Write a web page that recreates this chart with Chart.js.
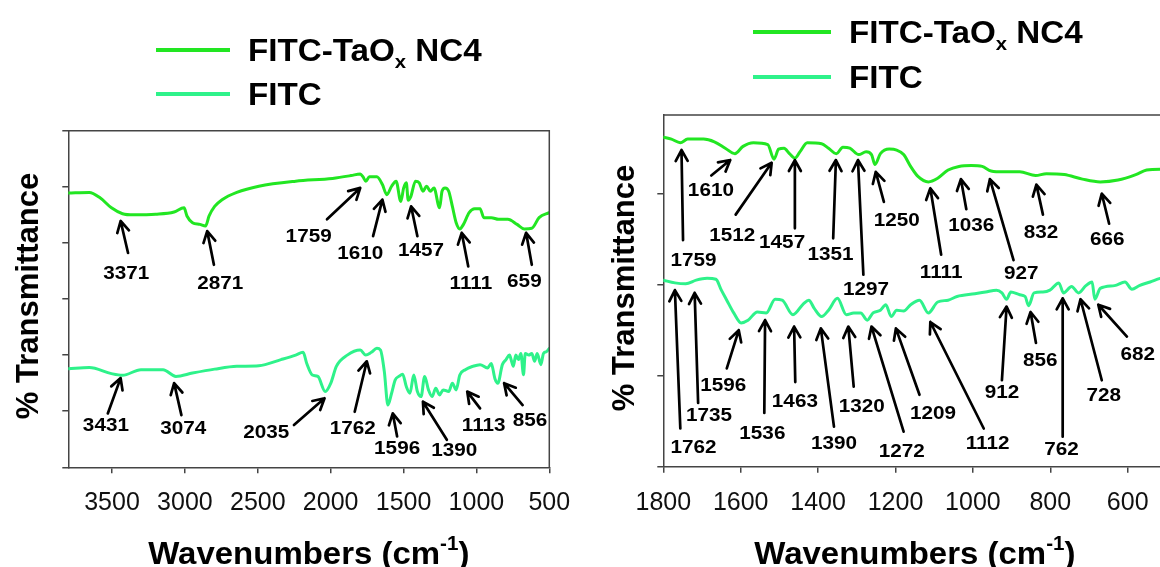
<!DOCTYPE html>
<html>
<head>
<meta charset="utf-8">
<script src="https://cdn.jsdelivr.net/npm/chart.js@4.4.0/dist/chart.umd.min.js"></script>
<style>
  html, body { margin: 0; padding: 0; background: #fff; overflow: hidden; }
  #wrap { position: relative; width: 1160px; height: 567px; overflow: hidden; background: #fff; }
  .panel { position: absolute; top: 0; }
  #leftPanel { left: 0; }
  #rightPanel { left: 600px; }
</style>
</head>
<body>
<div id="wrap">
  <div class="panel" id="leftPanel"><canvas id="fullRange" width="590" height="567"></canvas></div>
  <div class="panel" id="rightPanel"><canvas id="fingerprint" width="600" height="567"></canvas></div>
</div>
<script>
// ---- series names ----
const SERIES_NAMES = ['FITC-TaOₓ NC4', 'FITC'];
const X_TITLE = 'Wavenumbers (cm⁻¹)';
const Y_TITLE = '% Transmittance';

// ---- full range spectra (3800 - 500 cm-1) ----
const fullNC4Wn = [3800,3656,3580,3504,3428,3352,3201,3074,3006,2986,2948,2897,2859,2834,2796,2745,2644,2493,2240,1987,1860,1797,1779,1759,1734,1683,1645,1615,1582,1551,1519,1499,1481,1468,1451,1418,1392,1367,1342,1316,1291,1253,1236,1215,1190,1165,1139,1114,1089,1050,1012,975,949,898,848,785,721,671,620,570,500];
const fullNC4T  = [4.89,4.90,4.80,4.625,4.52,4.50,4.51,4.55,4.625,4.48,4.36,4.33,4.30,4.48,4.65,4.77,4.90,5.01,5.10,5.15,5.20,5.23,5.18,5.10,5.18,5.18,5.04,4.86,5.01,5.10,4.74,4.98,5.07,4.76,4.82,5.10,5.07,4.92,5.01,4.92,4.98,4.625,4.92,4.98,4.92,4.65,4.36,4.25,4.33,4.54,4.61,4.61,4.45,4.45,4.42,4.42,4.33,4.25,4.26,4.45,4.54];
const fullFITCWn = [3800,3656,3504,3428,3302,3150,3062,2948,2796,2644,2493,2341,2240,2189,2164,2126,2088,2037,1999,1961,1886,1797,1759,1721,1683,1658,1632,1607,1582,1557,1532,1506,1481,1456,1430,1405,1380,1355,1329,1304,1279,1253,1228,1190,1165,1139,1114,1076,1025,975,924,898,873,853,822,797,773,760,747,730,712,695,677,665,640,620,601,583,558,540,520,500];
const fullFITCT  = [1.755,1.78,1.67,1.64,1.74,1.74,1.62,1.68,1.75,1.80,1.81,1.92,2.00,2.05,1.85,1.645,1.62,1.35,1.50,1.80,2.00,2.09,2.00,2.05,2.12,2.09,1.71,1.11,1.32,1.56,1.62,1.66,1.44,1.32,1.645,1.35,1.26,1.62,1.38,1.26,1.41,1.29,1.38,1.35,1.50,1.38,1.645,1.74,1.80,1.83,1.77,1.85,1.58,1.50,1.83,1.92,2.00,1.90,1.80,2.00,1.92,2.03,1.65,2.03,2.00,2.03,1.89,2.03,1.83,2.03,2.06,2.12];

// ---- fingerprint region spectra (1800 - 500 cm-1) ----
const fpNC4Wn = [1800,1779,1756,1737,1696,1668,1640,1615,1594,1567,1530,1514,1502,1488,1474,1460,1447,1428,1391,1373,1353,1336,1318,1295,1276,1262,1253,1239,1216,1197,1179,1161,1142,1115,1091,1064,1036,1004,976,953,921,879,838,810,764,717,671,625,579,551,516,500];
const fpNC4T  = [3.62,3.60,3.56,3.60,3.60,3.57,3.50,3.44,3.52,3.56,3.54,3.38,3.49,3.50,3.44,3.39,3.46,3.56,3.55,3.50,3.44,3.51,3.50,3.43,3.46,3.43,3.32,3.44,3.49,3.48,3.43,3.30,3.19,3.13,3.17,3.26,3.30,3.31,3.30,3.25,3.24,3.24,3.20,3.22,3.21,3.16,3.13,3.15,3.21,3.26,3.27,3.27];
const fpFITCWn = [1800,1770,1742,1715,1687,1664,1650,1636,1618,1599,1581,1557,1534,1511,1493,1465,1438,1424,1410,1391,1373,1350,1327,1308,1290,1273,1258,1239,1225,1211,1197,1179,1161,1138,1115,1091,1064,1041,995,967,939,925,913,902,879,865,856,842,819,801,778,766,745,727,708,692,685,671,634,607,589,570,542,516,500];
const fpFITCT  = [2.05,2.02,2.01,2.05,2.07,2.06,1.94,1.83,1.69,1.58,1.61,1.70,1.69,1.84,1.83,1.67,1.79,1.83,1.74,1.65,1.72,1.85,1.67,1.69,1.69,1.61,1.69,1.72,1.78,1.65,1.72,1.71,1.78,1.83,1.69,1.81,1.83,1.87,1.90,1.92,1.94,1.91,1.84,1.92,1.89,1.87,1.77,1.91,1.92,1.94,2.02,1.91,1.98,1.91,1.99,2.03,1.84,1.96,1.99,2.03,1.95,1.99,2.03,2.07,2.08];

// ---- axis ticks ----
const fullXTicks = [500,1000,1500,2000,2500,3000,3500];
const fullYTicks = [0,1,2,3,4,5,6];
const fpXTicks = [600,800,1000,1200,1400,1600,1800];
const fpYTicks = [0,1,2,3];

// ---- band assignments: text, arrow tip [wn, T], arrow tail [wn, T], label centre [wn, T] ----
const fullPeaks = [
  ['3371', 3441,4.39, 3390,3.82, 3403,3.475],
  ['2871', 2847,4.21, 2801,3.61, 2758,3.29],
  ['1759', 1797,4.98, 2025,4.42, 2151,4.12],
  ['1610', 1645,4.77, 1709,4.12, 1797,3.82],
  ['1457', 1448,4.65, 1405,4.12, 1380,3.88],
  ['1111', 1101,4.18, 1056,3.58, 1038,3.29],
  ['659',  659,4.18,  620,3.61,  671,3.33],
  ['3431', 3441,1.59, 3529,0.96, 3542,0.755],
  ['3074', 3074,1.50, 3024,0.93, 3011,0.71],
  ['2035', 2042,1.23, 2252,0.755, 2442,0.64],
  ['1762', 1752,1.89, 1835,0.99, 1848,0.71],
  ['1596', 1574,0.96, 1544,0.55, 1544,0.34],
  ['1390', 1367,1.17, 1203,0.49, 1152,0.31],
  ['1113', 1063,1.35, 975,1.05,  950,0.755],
  ['856',  810,1.50,  683,1.11,  633,0.845]
];
const fpPeaks = [
  ['1759', 1753,3.48, 1749,2.49, 1722,2.27],
  ['1610', 1627,3.37, 1676,3.20, 1677,3.04],
  ['1512', 1520,3.34, 1613,2.77, 1622,2.55],
  ['1457', 1460,3.37, 1460,2.62, 1493,2.47],
  ['1351', 1354,3.37, 1361,2.51, 1368,2.34],
  ['1297', 1297,3.37, 1283,2.11, 1276,1.96],
  ['1250', 1251,3.24, 1230,2.91, 1197,2.71],
  ['1111', 1110,3.06, 1082,2.33, 1082,2.14],
  ['1036', 1031,3.16, 1017,2.83, 1004,2.66],
  ['927',  956,3.16,  895,2.27,  875,2.13],
  ['832',  836,3.10,  819,2.77,  824,2.58],
  ['666',  667,3.00,  648,2.67,  653,2.50],
  ['1762', 1770,1.94, 1756,0.42, 1722,0.22],
  ['1735', 1719,1.91, 1710,0.70, 1682,0.57],
  ['1596', 1605,1.50, 1636,1.08, 1645,0.90],
  ['1536', 1537,1.61, 1539,0.59, 1544,0.37],
  ['1463', 1462,1.54, 1459,0.93, 1460,0.73],
  ['1390', 1393,1.52, 1359,0.44, 1359,0.26],
  ['1320', 1322,1.54, 1308,0.88, 1287,0.67],
  ['1272', 1262,1.54, 1179,0.385, 1184,0.18],
  ['1209', 1199,1.52, 1138,0.79, 1103,0.59],
  ['1112', 1110,1.59, 972,0.42,  962,0.26],
  ['912',  913,1.76,  925,0.95,  925,0.82],
  ['856',  851,1.70,  837,1.36,  826,1.17],
  ['762',  768,1.85,  768,0.33,  771,0.20],
  ['728',  722,1.84,  667,0.95,  662,0.79],
  ['682',  676,1.78,  602,1.43,  574,1.24]
];

// ---- styling ----
const LINE_COLORS = ['#22e622', '#2ef28a'];
const AXIS_COLOR = '#444';
const FONT_FAMILY = '"Liberation Sans", Arial, Helvetica, sans-serif';
const LABEL_STRETCH = 1.09;   // band labels are set slightly wide
const LEGEND_STRETCH = 1.07;

const toPoints = (wn, t) => wn.map((x, i) => ({ x, y: t[i] }));
const toMarks = rows => rows.map(r => ({ text: r[0], tip: [r[1], r[2]], tail: [r[3], r[4]], label: [r[5], r[6]] }));

// Splits a string so that 'ₓ' is set as a subscript x and '⁻¹' as a superscript -1.
function richSegments(text) {
  const segs = [];
  const sub = { 'ₓ': 'x' }, sup = { '⁻': '-', '¹': '1' };
  for (const ch of text) {
    const kind = sub[ch] ? 'sub' : (sup[ch] ? 'sup' : 'n');
    const c = sub[ch] || sup[ch] || ch;
    if (segs.length && segs[segs.length - 1].kind === kind) segs[segs.length - 1].s += c;
    else segs.push({ kind, s: c });
  }
  return segs;
}
function drawRich(ctx, text, x, y, size, align, stretch) {
  const segs = richSegments(text);
  const small = Math.round(size * 0.62);
  const fontFor = k => `bold ${k === 'n' ? size : small}px ${FONT_FAMILY}`;
  let total = 0;
  for (const g of segs) { ctx.font = fontFor(g.kind); g.w = ctx.measureText(g.s).width; total += g.w; }
  ctx.save();
  ctx.translate(x, y);
  ctx.scale(stretch, 1);
  let cx = align === 'center' ? -total / 2 : 0;
  ctx.textAlign = 'left';
  ctx.textBaseline = 'alphabetic';
  for (const g of segs) {
    ctx.font = fontFor(g.kind);
    const dy = g.kind === 'sub' ? size * 0.22 : (g.kind === 'sup' ? -size * 0.45 : 0);
    ctx.fillText(g.s, cx, dy);
    cx += g.w;
  }
  ctx.restore();
}

// Closes the plot box along the top and right edges.
const frameBox = {
  id: 'frameBox',
  afterDraw(chart) {
    const { ctx, chartArea: a } = chart;
    ctx.save();
    ctx.strokeStyle = AXIS_COLOR;
    ctx.lineWidth = 1.5;
    ctx.beginPath();
    ctx.moveTo(a.left, a.top);
    ctx.lineTo(a.right, a.top);
    ctx.lineTo(a.right, a.bottom);
    ctx.stroke();
    ctx.restore();
  }
};

// Arrows and wavenumber labels for the assigned bands.
const peakMarks = {
  id: 'peakMarks',
  afterDatasetsDraw(chart, args, opts) {
    const { ctx, scales: { x, y } } = chart;
    ctx.save();
    ctx.strokeStyle = '#000';
    ctx.fillStyle = '#000';
    ctx.lineWidth = 2.7;
    ctx.lineCap = 'round';
    ctx.lineJoin = 'round';
    for (const m of opts.marks) {
      const tx = x.getPixelForValue(m.tip[0]), ty = y.getPixelForValue(m.tip[1]);
      const sx = x.getPixelForValue(m.tail[0]), sy = y.getPixelForValue(m.tail[1]);
      const ang = Math.atan2(ty - sy, tx - sx);
      const h = 12.5, spread = 0.5;
      ctx.beginPath();
      ctx.moveTo(sx, sy);
      ctx.lineTo(tx, ty);
      ctx.moveTo(tx - h * Math.cos(ang - spread), ty - h * Math.sin(ang - spread));
      ctx.lineTo(tx, ty);
      ctx.lineTo(tx - h * Math.cos(ang + spread), ty - h * Math.sin(ang + spread));
      ctx.stroke();
      const lx = x.getPixelForValue(m.label[0]), ly = y.getPixelForValue(m.label[1]);
      ctx.save();
      ctx.translate(lx, ly + 1);
      ctx.scale(LABEL_STRETCH, 1);
      ctx.font = `bold ${opts.size}px ${FONT_FAMILY}`;
      ctx.textAlign = 'center';
      ctx.textBaseline = 'middle';
      ctx.fillText(m.text, 0, 0);
      ctx.restore();
    }
    ctx.restore();
  }
};

// Legend block and axis titles.
const decorations = {
  id: 'decorations',
  afterDraw(chart, args, o) {
    const { ctx, chartArea: a } = chart;
    ctx.save();
    ctx.fillStyle = '#000';
    chart.data.datasets.forEach((ds, i) => {
      const ly = o.legendY + i * o.legendGap;
      ctx.strokeStyle = ds.borderColor;
      ctx.lineWidth = 4;
      ctx.beginPath();
      ctx.moveTo(o.legendX, ly);
      ctx.lineTo(o.legendX + o.legendLen, ly);
      ctx.stroke();
      drawRich(ctx, ds.label, o.legendTextX, ly + 11, 31, 'left', LEGEND_STRETCH);
    });
    drawRich(ctx, X_TITLE, (a.left + a.right) / 2, o.xTitleY, 32, 'center', 1.03);
    ctx.save();
    ctx.translate(o.yTitleX, o.yTitleY);
    ctx.rotate(-Math.PI / 2);
    drawRich(ctx, Y_TITLE, 0, 0, 31, 'center', 1);
    ctx.restore();
    ctx.restore();
  }
};

function axisCommon() {
  return {
    grid: { display: true, drawOnChartArea: false, drawTicks: true, tickLength: 6, color: AXIS_COLOR, lineWidth: 1.5 },
    border: { display: true, color: AXIS_COLOR, width: 1.5 }
  };
}

function buildChart(id, cfg) {
  return new Chart(document.getElementById(id), {
    type: 'line',
    data: {
      datasets: [
        { label: SERIES_NAMES[0], data: toPoints(cfg.wnA, cfg.tA), borderColor: LINE_COLORS[0] },
        { label: SERIES_NAMES[1], data: toPoints(cfg.wnB, cfg.tB), borderColor: LINE_COLORS[1] }
      ]
    },
    options: {
      responsive: false,
      animation: false,
      layout: { padding: { left: 0, top: cfg.top, right: cfg.padRight, bottom: 0 } },
      elements: {
        point: { radius: 0, hoverRadius: 0 },
        line: { borderWidth: 3, cubicInterpolationMode: 'monotone', borderCapStyle: 'round', borderJoinStyle: 'round', fill: false }
      },
      plugins: {
        legend: { display: false },
        tooltip: { enabled: false },
        peakMarks: { marks: toMarks(cfg.peaks), size: 19 },
        decorations: cfg.deco
      },
      scales: {
        x: Object.assign(axisCommon(), {
          type: 'linear', reverse: true, min: cfg.xMin, max: cfg.xMax,
          afterBuildTicks: s => { s.ticks = cfg.xTicks.map(v => ({ value: v })); },
          afterFit: s => { s.height = cfg.xAxisHeight; },
          ticks: { color: '#111', padding: 15, maxRotation: 0, autoSkip: false,
                   font: { family: FONT_FAMILY, size: 25 }, callback: v => String(v) }
        }),
        y: Object.assign(axisCommon(), {
          type: 'linear', min: cfg.yMin, max: cfg.yMax,
          afterBuildTicks: s => { s.ticks = cfg.yTicks.map(v => ({ value: v })); },
          afterFit: s => { s.width = cfg.yAxisWidth; },
          ticks: { display: false }
        })
      }
    },
    plugins: [frameBox, peakMarks, decorations]
  });
}

buildChart('fullRange', {
  wnA: fullNC4Wn, tA: fullNC4T, wnB: fullFITCWn, tB: fullFITCT,
  peaks: fullPeaks, xTicks: fullXTicks, yTicks: fullYTicks,
  xMin: 500, xMax: 3800, yMin: 0, yMax: 6,
  top: 130.7, padRight: 40.7, xAxisHeight: 99.7, yAxisWidth: 68.3,
  deco: { legendX: 156, legendLen: 74, legendTextX: 248, legendY: 50, legendGap: 44,
          xTitleY: 564, yTitleX: 38, yTitleY: 296 }
});

buildChart('fingerprint', {
  wnA: fpNC4Wn, tA: fpNC4T, wnB: fpFITCWn, tB: fpFITCT,
  peaks: fpPeaks, xTicks: fpXTicks, yTicks: fpYTicks,
  xMin: 500, xMax: 1800, yMin: 0, yMax: 3.865,
  top: 115, padRight: 33.6, xAxisHeight: 100.3, yAxisWidth: 63.3,
  deco: { legendX: 153, legendLen: 78, legendTextX: 249, legendY: 32, legendGap: 45,
          xTitleY: 564, yTitleX: 34, yTitleY: 288 }
});
</script>
</body>
</html>
